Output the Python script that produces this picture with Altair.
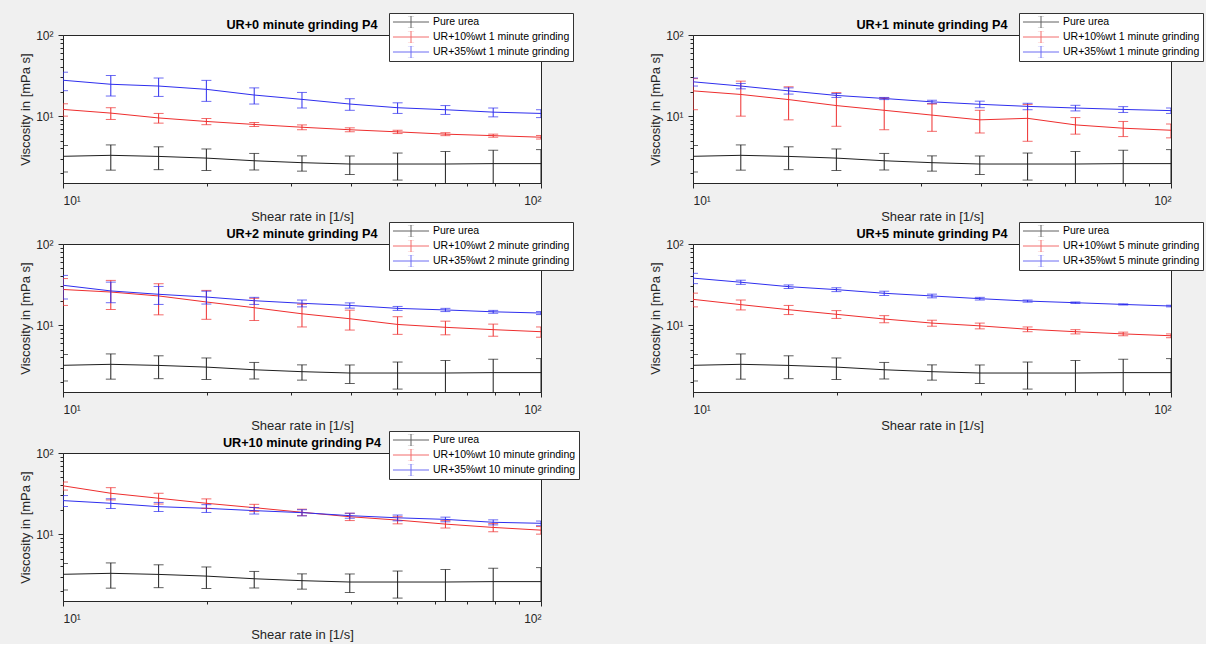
import altair as alt
import pandas as pd

# shear rates (1/s)
rates = [10.0, 12.59, 15.85, 19.95, 25.12, 31.62, 39.81, 50.12, 63.10, 79.43, 100.0]

# pure urea (same in every panel)
urea_mean = [3.2, 3.29, 3.19, 3.04, 2.82, 2.67, 2.57, 2.57, 2.57, 2.6, 2.6]
urea_sd = [1.15, 1.13, 1.0, 0.9, 0.65, 0.57, 0.66, 0.94, 1.1, 1.2, 1.27]

# UR+0 minute grinding
p0_red_mean = [12.1, 10.9, 9.5, 8.6, 7.9, 7.3, 6.8, 6.4, 6.0, 5.75, 5.5]
p0_red_sd = [2.1, 1.8, 1.3, 0.75, 0.45, 0.5, 0.38, 0.3, 0.25, 0.25, 0.28]
p0_blue_mean = [27.7, 24.7, 23.5, 21.4, 18.2, 16.1, 14.1, 12.7, 12.0, 11.2, 10.8]
p0_blue_sd = [7.1, 7.0, 6.0, 6.2, 4.1, 3.5, 2.3, 1.9, 1.5, 1.4, 1.2]

# UR+1 minute grinding
p1_red_mean = [20.5, 18.5, 16.0, 13.5, 11.8, 10.3, 9.0, 9.4, 7.8, 7.1, 6.7]
p1_red_sd = [8.5, 8.5, 7.0, 6.0, 5.0, 3.8, 2.8, 4.5, 1.8, 1.5, 1.3]
p1_blue_mean = [26.5, 23.5, 20.5, 18.0, 16.5, 15.0, 14.0, 13.2, 12.6, 12.1, 11.7]
p1_blue_sd = [3.0, 1.8, 1.8, 1.0, 0.5, 0.7, 1.3, 1.2, 1.0, 1.0, 0.9]

# UR+2 minute grinding
p2_red_mean = [27.5, 25.6, 22.9, 19.3, 16.4, 13.8, 12.0, 10.2, 9.4, 8.8, 8.3]
p2_red_sd = [10.0, 10.0, 9.5, 7.5, 5.0, 4.3, 3.3, 2.5, 1.8, 1.5, 1.2]
p2_blue_mean = [31.0, 26.4, 24.0, 22.2, 20.0, 18.6, 17.5, 16.1, 15.4, 14.6, 14.1]
p2_blue_sd = [10.0, 7.5, 6.0, 4.0, 2.0, 1.8, 1.3, 0.9, 0.7, 0.6, 0.6]

# UR+5 minute grinding
p5_red_mean = [20.8, 17.9, 15.5, 13.6, 11.9, 10.6, 9.8, 8.9, 8.3, 7.8, 7.4]
p5_red_sd = [4.0, 2.5, 2.0, 1.5, 1.2, 0.9, 0.8, 0.6, 0.5, 0.4, 0.4]
p5_blue_mean = [38.0, 33.8, 29.8, 27.4, 24.7, 22.9, 21.2, 19.8, 18.9, 18.0, 17.2]
p5_blue_sd = [5.5, 2.0, 1.5, 1.5, 1.5, 1.2, 0.8, 0.6, 0.4, 0.3, 0.4]

# UR+10 minute grinding
p10_red_mean = [39.4, 31.9, 27.7, 24.0, 21.2, 18.6, 16.4, 14.9, 13.3, 12.1, 11.2]
p10_red_sd = [4.5, 5.5, 4.2, 3.2, 2.1, 1.7, 1.7, 1.5, 1.4, 1.4, 1.2]
p10_blue_mean = [25.9, 24.0, 21.8, 20.8, 19.5, 18.4, 16.9, 15.9, 15.2, 14.0, 13.6]
p10_blue_sd = [4.0, 3.3, 2.8, 2.3, 1.8, 1.6, 1.2, 1.3, 1.0, 1.0, 0.9]

titles = ["UR+0 minute grinding P4", "UR+1 minute grinding P4", "UR+2 minute grinding P4",
          "UR+5 minute grinding P4", "UR+10 minute grinding P4"]
legend_minutes = ["1", "1", "2", "5", "10"]

colors = ["#1e1e1e", "#ee2e2e", "#2e2eee"]
FONT = "Liberation Sans"
W, H = 478, 148

x_ticks = [10, 20, 30, 40, 50, 60, 70, 80, 90, 100]
y_ticks = [2, 3, 4, 5, 6, 7, 8, 9, 10, 20, 30, 40, 50, 60, 70, 80, 90, 100]
LABEL_EXPR = "datum.value == 10 ? '10\u00b9' : datum.value == 100 ? '10\u00b2' : ''"
MAJOR = "datum.value == 10 || datum.value == 100"


def panel(title, minutes, red_mean, red_sd, blue_mean, blue_sd):
    names = ["Pure urea",
             f"UR+10%wt {minutes} minute grinding",
             f"UR+35%wt {minutes} minute grinding"]
    rows = []
    for name, means, sds in zip(names, [urea_mean, red_mean, blue_mean], [urea_sd, red_sd, blue_sd]):
        for r, m, s in zip(rates, means, sds):
            rows.append({"rate": r, "series": name, "mean": m, "lo": m - s, "hi": m + s})
    df = pd.DataFrame(rows)

    x = alt.X("rate:Q", title="Shear rate in [1/s]",
              scale=alt.Scale(type="log", domain=[10, 100], nice=False),
              axis=alt.Axis(values=x_ticks, labelExpr=LABEL_EXPR, labelPadding=7, titlePadding=4,
                            tickSize={"condition": {"test": MAJOR, "value": 5}, "value": 3}))
    yscale = alt.Scale(type="log", domain=[1.5, 100], nice=False)
    yaxis = alt.Axis(values=y_ticks, labelExpr=LABEL_EXPR, labelPadding=5, titlePadding=3,
                     tickSize={"condition": {"test": MAJOR, "value": 5}, "value": 3})
    color = alt.Color("series:N", title=None,
                      scale=alt.Scale(domain=names, range=colors))

    base = alt.Chart(df)
    line = base.mark_line(strokeWidth=1, clip=True).encode(
        x=x, y=alt.Y("mean:Q", title="Viscosity in [mPa s]", scale=yscale, axis=yaxis), color=color)
    bars = base.mark_rule(strokeWidth=1, clip=True).encode(
        x=x, y=alt.Y("lo:Q", scale=yscale), y2="hi:Q", color=color)
    cap_lo = base.mark_tick(orient="horizontal", size=10, thickness=1, clip=True).encode(
        x=x, y=alt.Y("lo:Q", scale=yscale), color=color)
    cap_hi = base.mark_tick(orient="horizontal", size=10, thickness=1, clip=True).encode(
        x=x, y=alt.Y("hi:Q", scale=yscale), color=color)
    return alt.layer(line, bars, cap_lo, cap_hi).properties(
        width=W, height=H,
        title=alt.TitleParams(title, font=FONT, fontSize=12.7, fontWeight="bold",
                              color="#000000", anchor="middle", frame="group", offset=-19),
    )


panels = [
    panel(titles[0], legend_minutes[0], p0_red_mean, p0_red_sd, p0_blue_mean, p0_blue_sd),
    panel(titles[1], legend_minutes[1], p1_red_mean, p1_red_sd, p1_blue_mean, p1_blue_sd),
    panel(titles[2], legend_minutes[2], p2_red_mean, p2_red_sd, p2_blue_mean, p2_blue_sd),
    panel(titles[3], legend_minutes[3], p5_red_mean, p5_red_sd, p5_blue_mean, p5_blue_sd),
    panel(titles[4], legend_minutes[4], p10_red_mean, p10_red_sd, p10_blue_mean, p10_blue_sd),
]

chart = alt.concat(*panels, columns=2, spacing={"row": 61, "column": 152}, bounds="flush").resolve_scale(
    color="independent", x="independent", y="independent").resolve_legend(color="independent")

SYMBOL = "M-1,0H1M0,-0.35V0.35M-0.17,-0.35H0.17M-0.17,0.35H0.17"

chart = chart.properties(
    background="#f0f0f0",
    padding={"left": 19, "top": 12, "right": 2, "bottom": 2},
).configure_view(
    fill="white", stroke="#262626", strokeWidth=1
).configure_axis(
    grid=False, domainColor="#262626", tickColor="#262626",
    labelFont=FONT, labelFontSize=12, labelColor="#262626",
    titleFont=FONT, titleFontSize=13, titleFontWeight="normal", titleColor="#262626",
    labelOverlap=False,
).configure_legend(
    orient="none", legendX=326, legendY=-22,
    fillColor="white", strokeColor="#333333", padding=3,
    symbolType=SYMBOL, symbolSize=1300, symbolStrokeWidth=1,
    labelFont=FONT, labelFontSize=10.5, labelColor="#000000", labelLimit=300,
    clipHeight=12, rowPadding=3, labelOffset=3,
)

chart.save("out.html", embed_options={"renderer": "svg", "actions": False})
